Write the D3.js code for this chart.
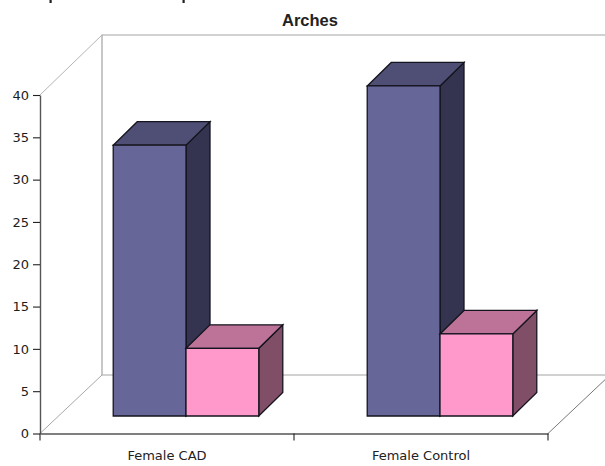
<!DOCTYPE html>
<html>
<head>
<meta charset="utf-8">
<script src="https://cdn.jsdelivr.net/npm/d3@7/dist/d3.min.js"></script>
<style>
html,body{margin:0;padding:0;background:#fff;overflow:hidden}
svg{display:block}
</style>
</head>
<body>
<script>
// Values per group
const categories = ["Female CAD", "Female Control"];
const seriesNames = ["A", "B"];
const seriesA = [32, 39];
const seriesB = [8, 9.7];
const yTicks = [0, 5, 10, 15, 20, 25, 30, 35, 40];
const yDomain = [0, 40];

const frontColors = ["#666699", "#ff99cc"];
const topColors = ["#4f4f75", "#bd7397"];
const sideColors = ["#343451", "#804e66"];

const W = 605, H = 466;
const x0 = 40, x1 = 548, yBase = 433.5, yTop = 95;
const wallDx = 62, wallDy = 58.5;      // offset from front plane to back wall
const floorDx = 19, floorDy = 17.5;    // offset from front plane to bar bases
const barDx = 24, barDy = 23.5;        // depth of each bar

const svg = d3.select("body").append("svg").attr("width", W).attr("height", H);

const xCat = d3.scaleBand().domain(categories).range([x0, x1]);
const xSeries = d3.scaleBand().domain(seriesNames).range([0, xCat.bandwidth()])
  .paddingInner(0).paddingOuter(0.745);
const y = d3.scaleLinear().domain(yDomain).range([yBase, yTop]);

// Back wall and floor outline
const walls = svg.append("g").attr("fill", "none");
const wall = (pts, color, width) => walls.append("path")
  .attr("d", d3.line()(pts)).attr("stroke", color).attr("stroke-width", width);
wall([[x0 + wallDx, yBase - wallDy], [x0 + wallDx, y(40) - 60], [W + 5, y(40) - 60]], "#a3a3a3", 1.2);
wall([[x0 + wallDx, yBase - wallDy], [W + 5, yBase - wallDy]], "#a3a3a3", 1.2);
wall([[x0, y(40)], [x0 + wallDx, y(40) - 60]], "#b5b5b5", 1);
wall([[x0, yBase], [x0 + wallDx, yBase - wallDy]], "#a8a8a8", 1);
wall([[x1, yBase], [x1 + wallDx, yBase - wallDy]], "#777777", 1);

// Bars drawn as three visible faces
const barsLayer = svg.append("g").attr("stroke", "#14141e").attr("stroke-width", 1.3).attr("stroke-linejoin", "miter");
const polyPath = d3.line().curve(d3.curveLinearClosed);

function drawBar(cat, sIndex, value) {
  const left = xCat(cat) + xSeries(seriesNames[sIndex]) + floorDx;
  const right = left + xSeries.bandwidth();
  const bottom = y(0) - floorDy;
  const top = y(value) - floorDy;
  const g = barsLayer.append("g");
  g.append("path").attr("fill", sideColors[sIndex]).attr("d", polyPath([
    [right, top], [right + barDx, top - barDy], [right + barDx, bottom - barDy], [right, bottom]]));
  g.append("path").attr("fill", topColors[sIndex]).attr("d", polyPath([
    [left, top], [left + barDx, top - barDy], [right + barDx, top - barDy], [right, top]]));
  g.append("path").attr("fill", frontColors[sIndex]).attr("d", polyPath([
    [left, top], [right, top], [right, bottom], [left, bottom]]));
}
categories.forEach((c, i) => {
  drawBar(c, 0, seriesA[i]);
  drawBar(c, 1, seriesB[i]);
});

// Axes
const yAxis = d3.axisLeft(y).tickValues(yTicks).tickSize(7).tickPadding(4).tickSizeOuter(0);
const xAxis = d3.axisBottom(xCat).tickSize(0).tickPadding(0);

const gy = svg.append("g").attr("transform", `translate(${x0},0)`).call(yAxis);
gy.select(".domain").attr("stroke", "#555").attr("stroke-width", 1.4);
gy.selectAll(".tick line").attr("stroke", "#222").attr("stroke-width", 1.1);
gy.selectAll(".tick text").attr("font-family", "DejaVu Sans").attr("font-size", 13).attr("fill", "#1c1c1c");

const gx = svg.append("g").attr("transform", `translate(0,${yBase})`).call(xAxis);
gx.select(".domain").attr("stroke", "#555").attr("stroke-width", 1.4);
gx.selectAll(".tick line").remove();
gx.selectAll(".tick text").attr("y", 26).attr("dy", 0)
  .attr("font-family", "DejaVu Sans").attr("font-size", 13).attr("fill", "#222");
const divisions = [x0, x0 + xCat.step(), x1];
gx.selectAll("line.div").data(divisions).join("line").attr("class", "div")
  .attr("x1", d => d).attr("x2", d => d).attr("y1", 0).attr("y2", 7)
  .attr("stroke", "#222").attr("stroke-width", 1.1);

// Title
svg.append("text").attr("x", 310).attr("y", 26).attr("text-anchor", "middle")
  .attr("font-family", "Liberation Sans").attr("font-weight", "bold").attr("font-size", 16.5)
  .attr("fill", "#222").text("Arches");

// Two small dark stubs along the page's top edge
svg.selectAll("rect.stub").data([49.5, 182.5]).join("rect").attr("class", "stub")
  .attr("x", d => d).attr("y", 0).attr("width", 2.2).attr("height", 3).attr("fill", "#222");
</script>
</body>
</html>
